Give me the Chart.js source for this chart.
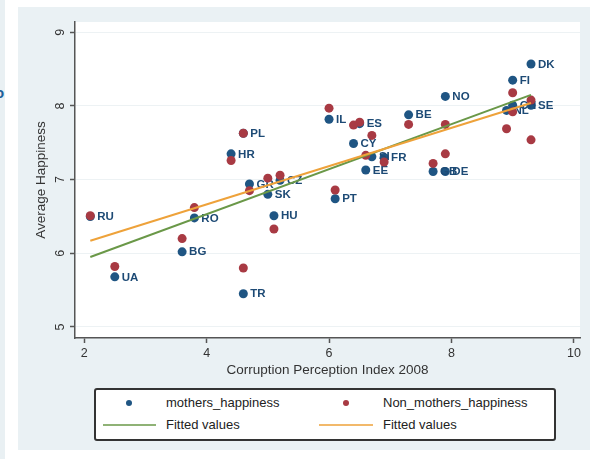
<!DOCTYPE html>
<html>
<head>
<meta charset="utf-8">
<script src="https://cdn.jsdelivr.net/npm/chart.js@4.4.1/dist/chart.umd.min.js"></script>
<style>
  html, body { margin: 0; padding: 0; background: #fff; }
  body { width: 590px; height: 459px; position: relative; overflow: hidden; font-family: "Liberation Sans", Arial, sans-serif; }
  .edge { position: absolute; left: 0; top: 0; width: 5px; height: 459px; background: #e9f0f3; }
  .edge-o { position: absolute; left: -5px; top: 84px; color: #1d5f9a; font: bold 15px "Liberation Sans", sans-serif; }
  .region { position: absolute; left: 18px; top: 7px; width: 572px; height: 443px; background: #eaf1f4; }
  #c { position: absolute; left: 0; top: 0; }
  .legend { position: absolute; left: 94px; top: 388px; width: 458px; height: 49px; border: 2px solid #333; border-radius: 3px; background: #fff; }
  .lg { position: absolute; font-size: 13px; color: #222; line-height: 16px; white-space: nowrap; }
  .dot { position: absolute; width: 6px; height: 6px; border-radius: 50%; }
  .ln { position: absolute; height: 2px; opacity: .75; }
</style>
</head>
<body>
<div class="edge"></div>
<div class="edge-o">o</div>
<div class="region"></div>
<canvas id="c" width="590" height="459" style="width:590px;height:459px"></canvas>
<div class="legend">
  <div class="dot" style="left:30px;top:10px;background:#1f5583"></div>
  <div class="lg" style="left:70px;top:5px">mothers_happiness</div>
  <div class="dot" style="left:247px;top:10px;background:#a83a43"></div>
  <div class="lg" style="left:287px;top:5px">Non_mothers_happiness</div>
  <div class="ln" style="left:7px;top:34px;width:53px;background:#6a9848"></div>
  <div class="lg" style="left:70px;top:27px">Fitted values</div>
  <div class="ln" style="left:223px;top:34px;width:54px;background:#eea23a"></div>
  <div class="lg" style="left:287px;top:27px">Fitted values</div>
</div>
<script>
// data
const countries = ['DK','FI','NO','SE','CH','NL','BE','IL','ES','CY','SI','FR','EE','PT','GB','DE','HR','PL','GR','CZ','SK','HU','RO','BG','RU','UA','TR'];
const cpi2008 = [9.3, 9.0, 7.9, 9.3, 9.0, 8.9, 7.3, 6.0, 6.5, 6.4, 6.7, 6.9, 6.6, 6.1, 7.7, 7.9, 4.4, 4.6, 4.7, 5.2, 5.0, 5.1, 3.8, 3.6, 2.1, 2.5, 4.6];
const mothersHappiness = [8.57, 8.35, 8.13, 8.01, 8.01, 7.94, 7.88, 7.82, 7.76, 7.49, 7.31, 7.30, 7.13, 6.74, 7.11, 7.11, 7.35, 7.63, 6.94, 6.99, 6.80, 6.51, 6.48, 6.02, 6.50, 5.68, 5.45];
const nonMothersHappiness = [8.08, 8.18, 7.75, 7.54, 7.92, 7.69, 7.75, 7.97, 7.78, 7.74, 7.60, 7.24, 7.33, 6.86, 7.22, 7.35, 7.26, 7.63, 6.85, 7.06, 7.02, 6.33, 6.62, 6.20, 6.51, 5.82, 5.80];
const fitX = [2.1, 9.3];
const mothersFit = [5.95, 8.15];
const nonMothersFit = [6.17, 8.04];
const xTicks = [2, 4, 6, 8, 10];
const yTicks = [5, 6, 7, 8, 9];

const FONT = '"Liberation Sans", Arial, sans-serif';
const AXIS = '#555';

const pts = (xs, ys) => xs.map((x, i) => ({ x, y: ys[i] }));

const plotBg = {
  id: 'plotBg',
  beforeDraw(chart) {
    const { ctx, chartArea: a } = chart;
    ctx.save();
    ctx.fillStyle = '#fff';
    ctx.fillRect(a.left, a.top, a.width, a.height);
    ctx.restore();
  }
};

// country codes next to the mothers markers
const pointLabels = {
  id: 'pointLabels',
  afterDatasetDraw(chart, args) {
    if (args.index !== 0) return;
    const ctx = chart.ctx;
    ctx.save();
    ctx.font = 'bold 11.5px "Liberation Sans Narrow", ' + FONT;
    ctx.fillStyle = '#1d4a75';
    ctx.textBaseline = 'middle';
    args.meta.data.forEach((p, i) => ctx.fillText(countries[i], p.x + 7, p.y + 0.5));
    ctx.restore();
  }
};

new Chart(document.getElementById('c'), {
  type: 'scatter',
  data: {
    datasets: [
      { label: 'mothers_happiness', data: pts(cpi2008, mothersHappiness), backgroundColor: '#1f5583', pointRadius: 4.5, pointBorderWidth: 0, order: 4 },
      { label: 'Non_mothers_happiness', data: pts(cpi2008, nonMothersHappiness), backgroundColor: '#a83a43', pointRadius: 4.5, pointBorderWidth: 0, order: 3 },
      { label: 'Fitted values', data: pts(fitX, mothersFit), showLine: true, borderColor: '#6a9848', borderWidth: 2, pointRadius: 0, order: 2 },
      { label: 'Fitted values', data: pts(fitX, nonMothersFit), showLine: true, borderColor: '#eea23a', borderWidth: 2, pointRadius: 0, order: 1 }
    ]
  },
  options: {
    animation: false, responsive: false, maintainAspectRatio: false,
    layout: { padding: { left: 0, top: 22, right: 10, bottom: 76 } },
    plugins: { legend: { display: false }, tooltip: { enabled: false } },
    scales: {
      x: {
        type: 'linear', min: 1.85, max: 10.1,
        afterBuildTicks: s => { s.ticks = xTicks.map(v => ({ value: v })); },
        afterFit: s => { s.height = 45; },
        grid: { drawOnChartArea: false, tickLength: 5, tickColor: AXIS, tickWidth: 1.5 },
        border: { color: AXIS, width: 1.5 },
        ticks: { color: '#333', font: { size: 12.5, family: FONT }, padding: 3, maxRotation: 0 },
        title: { display: true, text: 'Corruption Perception Index 2008', color: '#333', font: { size: 13.5, family: FONT }, padding: { top: 0, bottom: 5 } }
      },
      y: {
        type: 'linear', min: 4.85, max: 9.14,
        afterBuildTicks: s => { s.ticks = yTicks.map(v => ({ value: v })); },
        afterFit: s => { s.width = 75; },
        grid: { color: '#edf2f4', lineWidth: 1, tickLength: 5, tickColor: AXIS, tickWidth: 1.5 },
        border: { color: AXIS, width: 1.5 },
        ticks: { color: '#333', font: { size: 12.5, family: FONT }, padding: 6, minRotation: 90, maxRotation: 90, crossAlign: 'center' },
        title: { display: true, text: 'Average Happiness', color: '#333', font: { size: 13.5, family: FONT }, padding: { top: 33, bottom: 0 } }
      }
    }
  },
  plugins: [plotBg, pointLabels]
});
</script>
</body>
</html>
